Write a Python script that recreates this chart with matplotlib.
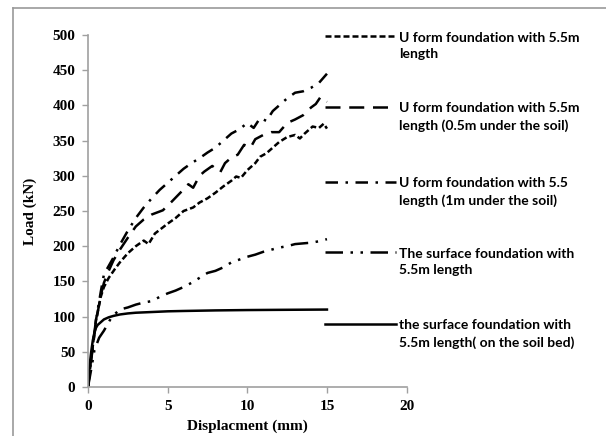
import matplotlib.pyplot as plt
from matplotlib.lines import Line2D

x_u55 = [0, 0.2, 0.5, 0.8, 1.0, 1.3, 1.7, 2.0, 2.5, 3.0, 3.5, 3.8, 4.2, 5.0, 5.5, 6.0, 6.6, 7.0, 7.5, 8.0,
         8.5, 9.0, 9.3, 9.6, 10.0, 10.5, 10.8, 11.2, 11.6, 12.0, 12.5, 13.0, 13.3, 13.6, 14.1, 14.5, 14.8, 15.0]
y_u55 = [0, 40, 95, 128, 142, 155, 168, 177, 190, 200, 208, 203, 218, 232, 240, 250, 255, 262, 268, 276,
         285, 293, 299, 297, 308, 318, 327, 332, 340, 348, 355, 358, 353, 360, 370, 368, 374, 367]

x_u05 = [0, 0.2, 0.5, 0.8, 1.0, 1.3, 1.6, 2.0, 2.5, 3.0, 3.5, 4.0, 4.7, 5.2, 5.8, 6.3, 6.6, 7.0, 7.3, 7.8,
         8.3, 8.6, 9.0, 9.4, 9.8, 10.2, 10.5, 11.0, 11.5, 12.0, 12.5, 13.0, 13.5, 14.0, 14.3, 14.6, 15.0]
y_u05 = [0, 38, 92, 130, 148, 165, 180, 195, 212, 228, 238, 245, 251, 262, 276, 288, 283, 300, 306, 314,
         305, 318, 326, 330, 344, 340, 352, 358, 362, 362, 375, 380, 386, 397, 402, 412, 405]

x_u1 = [0, 0.2, 0.5, 0.8, 1.0, 1.3, 1.6, 2.0, 2.5, 3.0, 3.5, 4.0, 4.5, 5.0, 5.5, 6.0, 6.5, 7.0, 7.5, 8.0,
        8.5, 9.0, 9.5, 10.0, 10.4, 10.8, 11.2, 11.6, 12.0, 12.5, 13.0, 13.5, 14.0, 14.5, 15.0]
y_u1 = [0, 40, 95, 135, 160, 172, 184, 202, 222, 240, 255, 268, 280, 290, 300, 310, 318, 325, 333, 340,
        350, 360, 366, 375, 368, 382, 378, 392, 400, 410, 418, 420, 425, 432, 445]

x_surf = [0, 0.2, 0.4, 0.7, 1.0, 1.2, 1.5, 2.0, 2.5, 3.0, 3.5, 4.0, 4.5, 5.0, 5.5, 6.0, 6.5, 7.0, 7.5, 8.0,
          8.5, 9.0, 9.5, 10.0, 10.5, 11.0, 11.5, 12.0, 12.5, 13.0, 13.5, 14.0, 14.5, 15.0]
y_surf = [0, 25, 52, 70, 80, 88, 100, 110, 113, 117, 120, 122, 128, 133, 137, 142, 148, 155, 162, 165,
          170, 177, 181, 185, 188, 192, 195, 198, 200, 203, 204, 205, 207, 210]

x_bed = [0, 0.1, 0.2, 0.3, 0.4, 0.5, 0.6, 0.75, 1.0, 1.3, 1.6, 2.0, 2.5, 3.0, 4.0, 5.0, 6.0, 8.0, 10.0, 12.0, 15.0]
y_bed = [0, 30, 50, 66, 77, 84, 88, 91, 96, 99, 101, 103, 104.5, 105.5, 106.5, 107.5, 108, 108.8, 109.3, 109.6, 110]

labels = [
    "U form foundation with 5.5m\nlength",
    "U form foundation with 5.5m\nlength (0.5m under the soil)",
    "U form foundation with 5.5\nlength (1m under the soil)",
    "The surface foundation with\n5.5m length",
    "the surface foundation with\n5.5m length( on the soil bed)",
]

series = [(x_u55, y_u55), (x_u05, y_u05), (x_u1, y_u1), (x_surf, y_surf), (x_bed, y_bed)]
dash_styles = [(0, (2.4, 1.2)), (0, (6, 3.5)), (0, (5, 3, 1, 3)), (0, (7, 3, 1, 3, 1, 3)), "-"]

W, H = 606, 436
fig = plt.figure(figsize=(W / 100, H / 100), dpi=100)
ax = fig.add_axes([88 / W, 1 - 387 / H, (406.6 - 88) / W, (387 - 35) / H])

for (xs, ys), ls in zip(series, dash_styles):
    ax.plot(xs, ys, color="black", linestyle=ls, linewidth=1.8)

ax.set_xlim(0, 20)
ax.set_ylim(0, 500)
ax.set_xticks(range(0, 21, 5))
ax.set_yticks(range(0, 501, 50))
for s in ["top", "right"]:
    ax.spines[s].set_visible(False)
for s in ["left", "bottom"]:
    ax.spines[s].set_color("#a0a0a0")
    ax.spines[s].set_linewidth(1.2)
ax.tick_params(direction="out", length=4, width=1, color="#a0a0a0", pad=5)
for t in ax.get_xticklabels() + ax.get_yticklabels():
    t.set_fontfamily("Liberation Serif")
    t.set_fontweight("bold")
    t.set_fontsize(11)
ax.set_xlabel("Displacment (mm)", fontfamily="Liberation Serif", fontweight="bold", fontsize=11, labelpad=5)
ax.set_ylabel("Load (kN)", fontfamily="Liberation Serif", fontweight="bold", fontsize=11, labelpad=11)

# legend drawn by hand: handle beside the first text line
handle_y = [36, 107, 182, 252, 324]
for lab, ls, hy in zip(labels, dash_styles, handle_y):
    fy = 1 - hy / H
    fig.add_artist(Line2D([325 / W, 396 / W], [fy, fy], transform=fig.transFigure,
                          color="black", linestyle=ls, linewidth=1.8))
    fig.text(399 / W, 1 - (hy + 10) / H, lab, va="center", ha="left", fontfamily="Lato",
             fontweight="bold", fontsize=10, linespacing=1.45)

# outer frame (left and top edges only visible)
fig.add_artist(Line2D([13 / W, 13 / W], [0, 1 - 8 / H], transform=fig.transFigure, color="#999999", linewidth=1.2))
fig.add_artist(Line2D([13 / W, 1], [1 - 8 / H, 1 - 8 / H], transform=fig.transFigure, color="#999999", linewidth=1.2))

fig.savefig("out.png", dpi=100, facecolor="white")
